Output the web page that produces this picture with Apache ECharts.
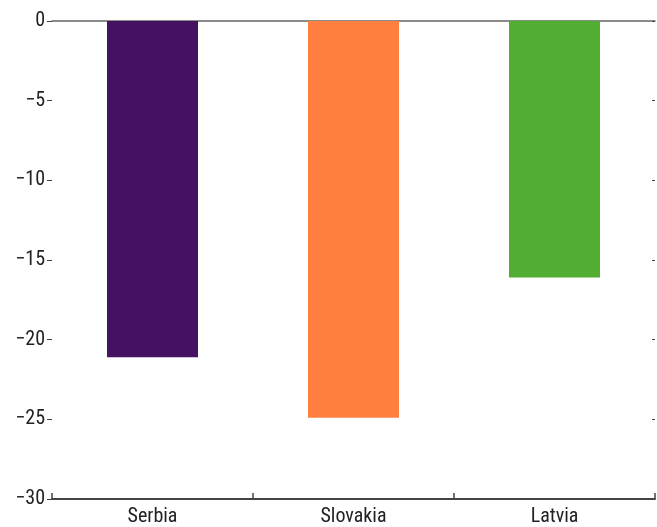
<!DOCTYPE html>
<html><head><meta charset="utf-8">
<script src="https://cdn.jsdelivr.net/npm/echarts@6/dist/echarts.min.js"></script>
<style>html,body{margin:0;padding:0;background:#fff}#c{width:657px;height:527px}</style>
</head><body><div id="c"></div>
<script>
const categories = ["Serbia", "Slovakia", "Latvia"];
const values = [-21.1, -24.9, -16.1];
const colors = ["#451261", "#ff7f41", "#52ae32"];
const yTicks = [-30, -25, -20, -15, -10, -5, 0];

const font = "'Liberation Sans Narrow', 'Roboto Condensed', 'Liberation Sans', sans-serif";
const chart = echarts.init(document.getElementById('c'));
chart.setOption({
  animation: false,
  grid: {left: 52, right: 2, top: 21, bottom: 28, containLabel: false},
  xAxis: [{
    type: 'category', data: categories, position: 'bottom',
    axisLine: {onZero: false, lineStyle: {color: '#444', width: 2}},
    axisTick: {show: true, inside: true, length: 6, lineStyle: {color: '#444', width: 1.5}},
    axisLabel: {color: '#222', fontSize: 20, fontFamily: font, margin: 8}
  }, {
    type: 'category', data: categories, position: 'top',
    axisLine: {onZero: false, lineStyle: {color: '#666', width: 1.5}},
    axisTick: {show: false}, axisLabel: {show: false}
  }],
  yAxis: [{
    type: 'value', min: -30, max: 0, interval: 5,
    axisLine: {show: false},
    axisTick: {show: true, length: 5, lineStyle: {color: '#444'}},
    splitLine: {show: false},
    axisLabel: {color: '#222', fontSize: 20, fontFamily: font, margin: 7,
      formatter: v => yTicks.includes(v) ? (v < 0 ? '\u2212' + Math.abs(v) : String(v)) : ''}
  }, {
    type: 'value', min: -30, max: 0, interval: 5, position: 'right',
    axisLine: {show: false},
    axisTick: {show: true, inside: true, length: 3, lineStyle: {color: '#444'}},
    splitLine: {show: false}, axisLabel: {show: false}
  }],
  series: [{
    type: 'bar', barWidth: 91,
    data: values.map((v, i) => ({value: v, itemStyle: {color: colors[i]}}))
  }]
});
</script></body></html>
